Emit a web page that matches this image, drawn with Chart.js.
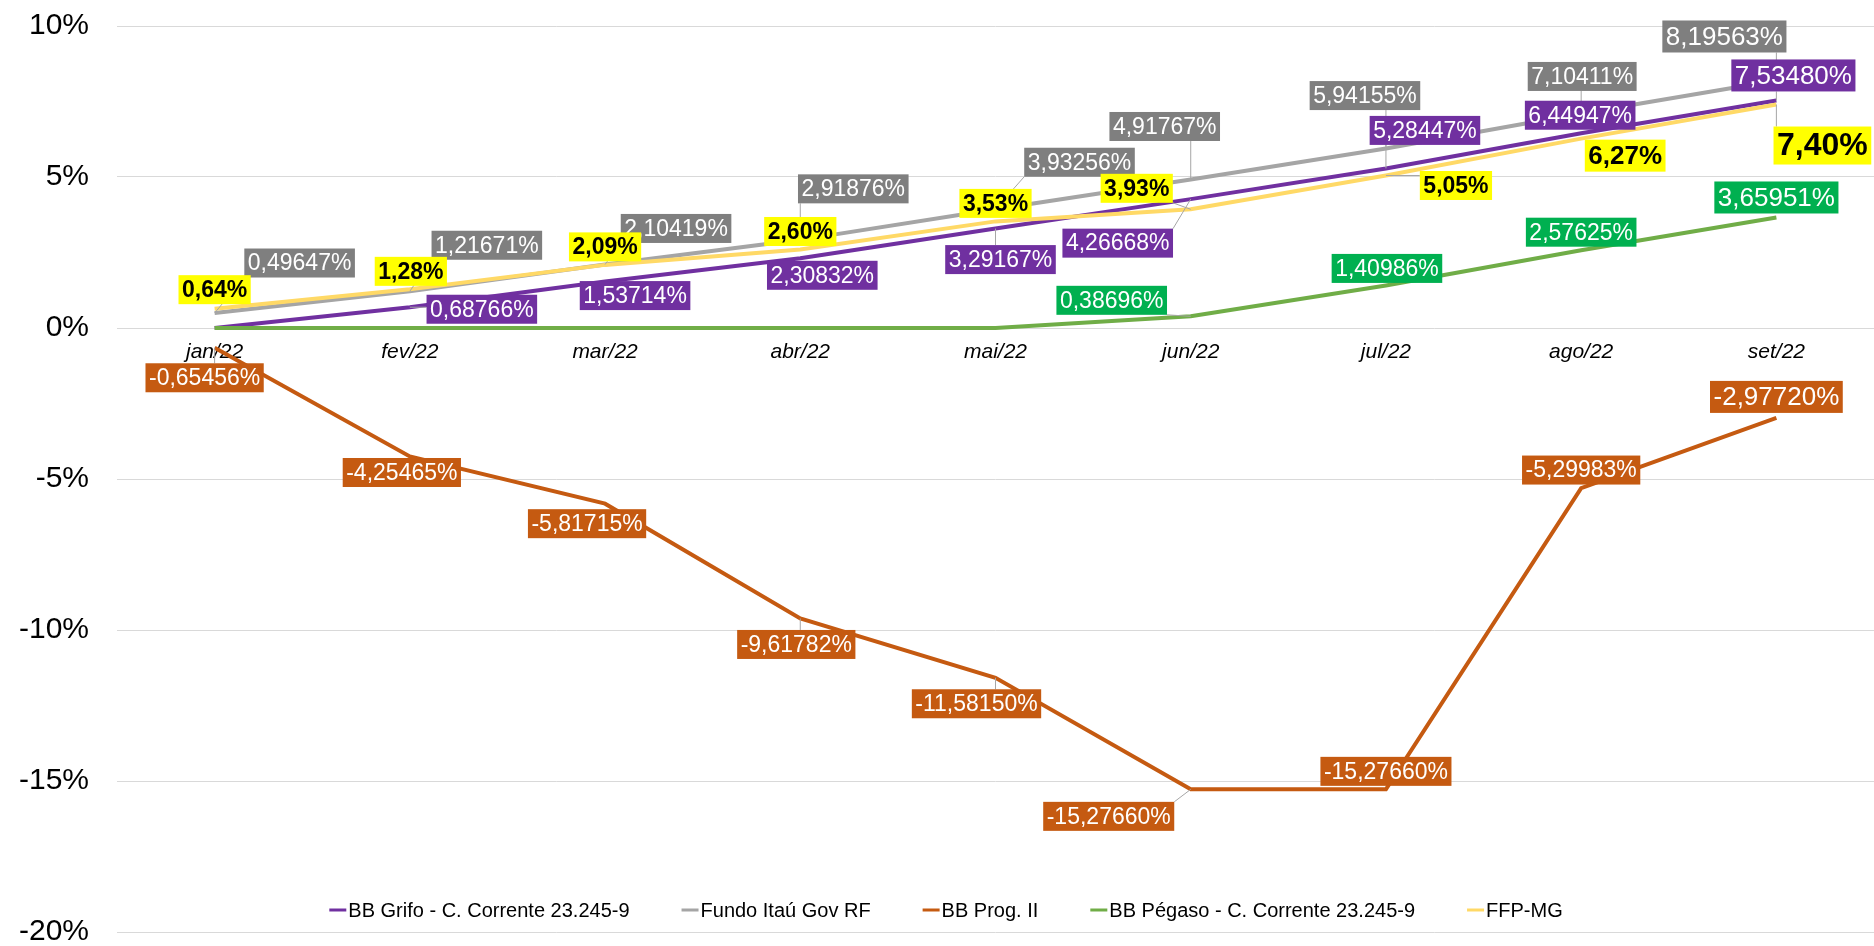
<!DOCTYPE html>
<html>
<head>
<meta charset="utf-8">
<script src="https://cdn.jsdelivr.net/npm/chart.js@4/dist/chart.umd.min.js"></script>
<style>
  html, body { margin: 0; padding: 0; background: #fff; }
  canvas { display: block; }
</style>
</head>
<body>
<canvas id="chart" width="1874" height="946"></canvas>
<script>
// dados (rentabilidade acumulada, em %)
const months = ['jan/22', 'fev/22', 'mar/22', 'abr/22', 'mai/22', 'jun/22', 'jul/22', 'ago/22', 'set/22'];
const grifo = [0, 0.68766, 1.53714, 2.30832, 3.29167, 4.26668, 5.28447, 6.44947, 7.53480];
const itau = [0.49647, 1.21671, 2.10419, 2.91876, 3.93256, 4.91767, 5.94155, 7.10411, 8.19563];
const prog = [-0.65456, -4.25465, -5.81715, -9.61782, -11.58150, -15.27660, -15.27660, -5.29983, -2.97720];
const pegaso = [0, 0, 0, 0, 0, 0.38696, 1.40986, 2.57625, 3.65951];
const ffp = [0.64, 1.28, 2.09, 2.60, 3.53, 3.93, 5.05, 6.27, 7.40];
const yMin = -20, yMax = 10, yStep = 5;

const FONT = '"Liberation Sans", Arial, sans-serif';

// estilo dos rótulos (deslocamento da caixa em relação ao ponto)
const labelStyles = [
  { bg: '#7030A0', color: '#fff', decimals: 5,
    offsets: [null, [72, 2], [30, 14], [22, 17], [5, 31], [-73, 44], [39, -38], [-1, -18], [17, -25]],
    sizes: { 8: 26 } },
  { bg: '#7F7F7F', color: '#fff', decimals: 5,
    offsets: [[85, -50], [77, -46], [71, -36], [53, -51], [84, -47], [-26, -53], [-21, -53], [1, -37], [-52, -44]],
    sizes: { 8: 26 } },
  { bg: '#C55A11', color: '#fff', decimals: 5,
    offsets: [[-10, 30], [-8, 16], [-18, 20], [-4, 26], [-19, 26], [-82, 27], [0, -18], [0, -18], [0, -21]],
    sizes: { 8: 26 } },
  { bg: '#00B050', color: '#fff', decimals: 5,
    offsets: [null, null, null, null, null, [-79, -16], [1, -17], [0, -18], [0, -20]],
    sizes: { 8: 26 } },
  { bg: '#FFFF00', color: '#000', decimals: 2, bold: true,
    offsets: [[0, -19], [1, -18], [0, -18], [0, -18], [0, -18], [-54, -21], [70, 10], [44, 17], [46, 41]],
    sizes: { 7: 26, 8: 32 } }
];

function fmt(v, d) {
  return v.toFixed(d).replace('.', ',') + '%';
}

const boxLabels = {
  id: 'boxLabels',
  afterDatasetsDraw(chart) {
    const ctx = chart.ctx;
    const boxes = [];
    chart.data.datasets.forEach((ds, i) => {
      const st = labelStyles[i];
      chart.getDatasetMeta(i).data.forEach((pt, j) => {
        const off = st.offsets[j];
        if (!off) return;
        const size = st.sizes[j] || 23;
        const text = fmt(ds.data[j], st.decimals);
        const font = (st.bold ? 'bold ' : '') + size + 'px ' + FONT;
        ctx.font = font;
        const w = ctx.measureText(text).width + 7;
        const h = size + 6;
        const cx = pt.x + off[0], cy = pt.y + off[1];
        boxes.push({ st, text, font, w, h, cx, cy, px: pt.x, py: pt.y });
      });
    });
    ctx.save();
    // linhas de chamada
    ctx.strokeStyle = '#A6A6A6';
    ctx.lineWidth = 1;
    boxes.forEach(b => {
      const l = b.cx - b.w / 2, t = b.cy - b.h / 2;
      const nx = Math.max(l, Math.min(b.px, l + b.w));
      const ny = Math.max(t, Math.min(b.py, t + b.h));
      if (Math.hypot(nx - b.px, ny - b.py) > 6) {
        ctx.beginPath();
        ctx.moveTo(b.px, b.py);
        ctx.lineTo(nx, ny);
        ctx.stroke();
      }
    });
    boxes.forEach(b => {
      ctx.fillStyle = b.st.bg;
      ctx.fillRect(b.cx - b.w / 2, b.cy - b.h / 2, b.w, b.h);
      ctx.fillStyle = b.st.color;
      ctx.font = b.font;
      ctx.textAlign = 'center';
      ctx.textBaseline = 'middle';
      ctx.fillText(b.text, b.cx, b.cy + 1);
    });
    ctx.restore();
  }
};

// legenda desenhada sobre a área do gráfico
const bottomLegend = {
  id: 'bottomLegend',
  afterDraw(chart) {
    const ctx = chart.ctx;
    ctx.save();
    ctx.font = '20px ' + FONT;
    const items = chart.data.datasets.map(ds => ({
      text: ds.label, color: ds.borderColor, w: ctx.measureText(ds.label).width
    }));
    const mark = 17, gap = 2, spacing = 52;
    const total = items.reduce((s, it) => s + mark + gap + it.w, 0) + spacing * (items.length - 1);
    let x = 946 - total / 2;
    const y = 910;
    ctx.textBaseline = 'middle';
    ctx.textAlign = 'left';
    items.forEach(it => {
      ctx.strokeStyle = it.color;
      ctx.lineWidth = 3;
      ctx.beginPath();
      ctx.moveTo(x, y);
      ctx.lineTo(x + mark, y);
      ctx.stroke();
      ctx.fillStyle = '#000';
      ctx.fillText(it.text, x + mark + gap, y + 1);
      x += mark + gap + it.w + spacing;
    });
    ctx.restore();
  }
};

function series(label, data, color, order) {
  return {
    label, data, order,
    borderColor: color,
    backgroundColor: color,
    borderWidth: 4,
    pointRadius: 0,
    tension: 0,
    fill: false
  };
}

new Chart(document.getElementById('chart').getContext('2d'), {
  type: 'line',
  data: {
    labels: months,
    datasets: [
      series('BB Grifo - C. Corrente 23.245-9', grifo, '#7030A0', 5),
      series('Fundo Itaú Gov RF', itau, '#A5A5A5', 4),
      series('BB Prog. II', prog, '#C55A11', 3),
      series('BB Pégaso - C. Corrente 23.245-9', pegaso, '#70AD47', 2),
      series('FFP-MG', ffp, '#FFD966', 1)
    ]
  },
  options: {
    responsive: false,
    animation: false,
    devicePixelRatio: 1,
    layout: { padding: { top: 26, bottom: 14, left: 0, right: 0 } },
    plugins: {
      legend: { display: false },
      tooltip: { enabled: false }
    },
    scales: {
      x: {
        position: { y: 0 },
        offset: true,
        grid: { display: false },
        border: { display: false },
        ticks: {
          color: '#000',
          padding: 4,
          font: { family: FONT, size: 21, style: 'italic' }
        }
      },
      y: {
        min: yMin,
        max: yMax,
        grid: { color: '#D9D9D9', lineWidth: 1, drawTicks: false },
        border: { display: false },
        ticks: {
          stepSize: yStep,
          color: '#000',
          padding: 28,
          font: { family: FONT, size: 30 },
          callback: v => v + '%'
        },
        afterFit(scale) {
          scale.width = 117;
          scale.paddingTop = 0;
          scale.paddingBottom = 0;
        }
      }
    }
  },
  plugins: [boxLabels, bottomLegend]
});
</script>
</body>
</html>
